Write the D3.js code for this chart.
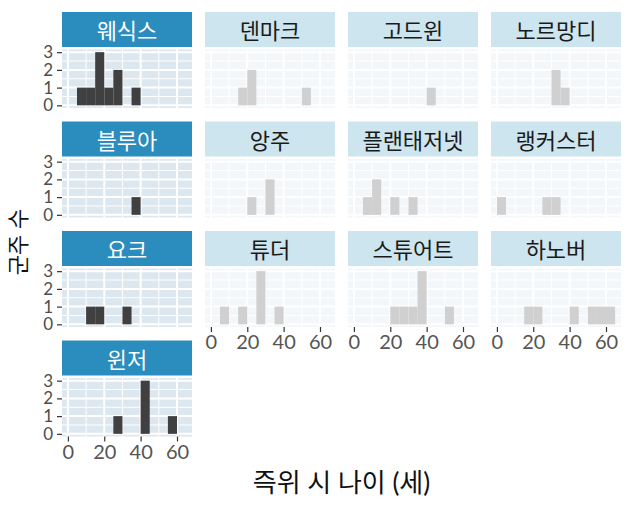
<!DOCTYPE html>
<html>
<head>
<meta charset="utf-8">
<script src="https://cdn.jsdelivr.net/npm/d3@7"></script>
<style>
  body { margin: 0; background: #fff; }
  text { font-family: Lato, "Noto Sans CJK KR", sans-serif; }
</style>
</head>
<body>
<div id="chart"></div>
<script>
// facet labels (row-major) and which ones are highlighted
const houses = ["웨식스", "덴마크", "고드윈", "노르망디", "블루아", "앙주", "플랜태저넷",
  "랭커스터", "요크", "튜더", "스튜어트", "하노버", "윈저"];
const highlighted = ["웨식스", "블루아", "요크", "윈저"];

// histogram bins (width 5 years), start of each bin
const binStarts = [0, 5, 10, 15, 20, 25, 30, 35, 40, 45, 50, 55, 60];
const binWidth = 5;

// counts per bin, same order as houses
const counts = [
  [0, 1, 1, 3, 1, 2, 0, 1, 0, 0, 0, 0, 0], // 웨식스
  [0, 0, 0, 1, 2, 0, 0, 0, 0, 0, 1, 0, 0], // 덴마크
  [0, 0, 0, 0, 0, 0, 0, 0, 1, 0, 0, 0, 0], // 고드윈
  [0, 0, 0, 0, 0, 0, 2, 1, 0, 0, 0, 0, 0], // 노르망디
  [0, 0, 0, 0, 0, 0, 0, 1, 0, 0, 0, 0, 0], // 블루아
  [0, 0, 0, 0, 1, 0, 2, 0, 0, 0, 0, 0, 0], // 앙주
  [0, 1, 2, 0, 1, 0, 1, 0, 0, 0, 0, 0, 0], // 플랜태저넷
  [1, 0, 0, 0, 0, 1, 1, 0, 0, 0, 0, 0, 0], // 랭커스터
  [0, 0, 1, 1, 0, 0, 1, 0, 0, 0, 0, 0, 0], // 요크
  [0, 1, 0, 1, 0, 3, 0, 1, 0, 0, 0, 0, 0], // 튜더
  [0, 0, 0, 0, 1, 1, 1, 3, 0, 0, 1, 0, 0], // 스튜어트
  [0, 0, 0, 1, 1, 0, 0, 0, 1, 0, 1, 1, 1], // 하노버
  [0, 0, 0, 0, 0, 1, 0, 0, 3, 0, 0, 1, 0]  // 윈저
];

const xTicks = [0, 20, 40, 60];
const yTicks = [0, 1, 2, 3];

// layout
const W = 633, H = 507;
const ncol = 4;
const marginLeft = 62, marginTop = 12;
const panelW = 130, colGap = 13;
const stripH = 35, stripGap = 2.5, panelH = 58.5, rowGap = 13.5;
const rowStep = stripH + stripGap + panelH + rowGap;

const x = d3.scaleLinear().domain([-3.25, 68.25]).range([0, panelW]);
const y = d3.scaleLinear().domain([-0.15, 3.15]).range([panelH, 0]);

const svg = d3.select("#chart").append("svg")
  .attr("width", W)
  .attr("height", H);

svg.append("rect").attr("width", W).attr("height", H).attr("fill", "#fff");

houses.forEach((house, i) => {
  const col = i % ncol, row = Math.floor(i / ncol);
  const on = highlighted.includes(house);
  // x axis shown where nothing sits below
  const showX = (i + ncol) >= houses.length;
  const px = marginLeft + col * (panelW + colGap);
  const py = marginTop + row * rowStep;

  const g = svg.append("g").attr("transform", `translate(${px},${py})`);

  // strip
  g.append("rect")
    .attr("width", panelW).attr("height", stripH)
    .attr("fill", on ? "#2b8cbe" : "#cde5ee");
  g.append("text")
    .attr("x", panelW / 2).attr("y", stripH / 2 + 1)
    .attr("text-anchor", "middle")
    .attr("dominant-baseline", "central")
    .style("font-size", "22px")
    .attr("fill", on ? "#fff" : "#1a1a1a")
    .text(house);

  // panel
  const p = g.append("g").attr("transform", `translate(0,${stripH + stripGap})`);
  p.append("rect")
    .attr("width", panelW).attr("height", panelH)
    .attr("fill", on ? "#dde7ef" : "#f3f7fa");

  const gridCol = "#fff";
  // minor grid
  p.selectAll(".vminor").data([10, 30, 50]).join("line")
    .attr("x1", d => x(d)).attr("x2", d => x(d))
    .attr("y1", 0).attr("y2", panelH)
    .attr("stroke", gridCol).attr("stroke-width", 1);
  p.selectAll(".hminor").data([0.5, 1.5, 2.5]).join("line")
    .attr("x1", 0).attr("x2", panelW)
    .attr("y1", d => y(d)).attr("y2", d => y(d))
    .attr("stroke", gridCol).attr("stroke-width", 1);
  // major grid
  p.selectAll(".vmajor").data(xTicks).join("line")
    .attr("x1", d => x(d)).attr("x2", d => x(d))
    .attr("y1", 0).attr("y2", panelH)
    .attr("stroke", gridCol).attr("stroke-width", 2);
  p.selectAll(".hmajor").data(yTicks).join("line")
    .attr("x1", 0).attr("x2", panelW)
    .attr("y1", d => y(d)).attr("y2", d => y(d))
    .attr("stroke", gridCol).attr("stroke-width", 2);

  // bars
  const bins = binStarts.map((b, j) => ({ x0: b, n: counts[i][j] })).filter(d => d.n > 0);
  p.selectAll(".bar").data(bins).join("rect")
    .attr("x", d => x(d.x0))
    .attr("width", d => x(d.x0 + binWidth) - x(d.x0))
    .attr("y", d => y(d.n))
    .attr("height", d => y(0) - y(d.n))
    .attr("fill", on ? "#404040" : "#d0d0d0");

  // y axis on first column
  if (col === 0) {
    const ya = p.append("g")
      .call(d3.axisLeft(y).tickValues(yTicks).tickSize(5).tickPadding(4).tickFormat(d3.format("d")));
    ya.select(".domain").remove();
    ya.selectAll(".tick line").attr("stroke", "#333").attr("stroke-width", 1.2);
    ya.selectAll(".tick text").attr("fill", "#4d4d4d").style("font-size", "17px")
      .style("font-family", "Lato, sans-serif");
  }

  // x axis on bottom panels
  if (showX) {
    const xa = p.append("g").attr("transform", `translate(0,${panelH})`)
      .call(d3.axisBottom(x).tickValues(xTicks).tickSize(5).tickPadding(3));
    xa.select(".domain").remove();
    xa.selectAll(".tick line").attr("stroke", "#333").attr("stroke-width", 1.2);
    xa.selectAll(".tick text").attr("fill", "#555").style("font-size", "20px")
      .style("font-family", "Lato, sans-serif");
  }
});

// axis titles
svg.append("text")
  .attr("transform", `translate(17,${242}) rotate(-90)`)
  .attr("text-anchor", "middle")
  .attr("dominant-baseline", "central")
  .style("font-size", "22px")
  .attr("fill", "#111")
  .text("군주 수");

svg.append("text")
  .attr("x", marginLeft + (ncol * panelW + (ncol - 1) * colGap) / 2)
  .attr("y", 492)
  .attr("text-anchor", "middle")
  .style("font-size", "26px")
  .attr("fill", "#111")
  .text("즉위 시 나이 (세)");
</script>
</body>
</html>
